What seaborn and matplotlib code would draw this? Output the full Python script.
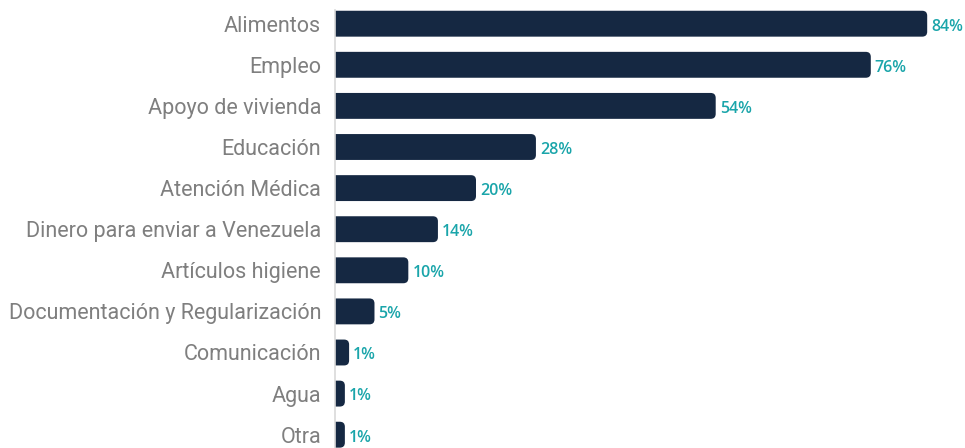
import matplotlib
matplotlib.use("Agg")
import matplotlib.pyplot as plt
import seaborn as sns
import pandas as pd
from matplotlib.patches import FancyBboxPatch

categories = ["Alimentos", "Empleo", "Apoyo de vivienda", "Educación", "Atención Médica",
              "Dinero para enviar a Venezuela", "Artículos higiene",
              "Documentación y Regularización", "Comunicación", "Agua", "Otra"]
values = [84, 76, 54, 28.5, 20, 14.6, 10.4, 5.6, 2.0, 1.4, 1.4]
value_labels = ["84%", "76%", "54%", "28%", "20%", "14%", "10%", "5%", "1%", "1%", "1%"]

df = pd.DataFrame({"cat": categories, "val": values})

sns.set_theme(style="white")

BAR = "#152842"
TEAL = "#1aa5aa"

fig = plt.figure(figsize=(9.65, 4.48), dpi=100)
ax = fig.add_axes([335 / 965, 0, 630 / 965, 1])
sns.barplot(data=df, y="cat", x="val", orient="h", color=BAR, width=0.63,
            saturation=1, ax=ax)

px_per_unit = 7.05
spacing_px = 41.1
top_px = 23.7
ylo = -top_px / spacing_px
yhi = (448 - top_px) / spacing_px
ax.set_xlim(0, 630 / px_per_unit)
ax.set_ylim(yhi, ylo)

x_per_px = 1 / px_per_unit
y_per_px = 1 / spacing_px
r_px = 5
for p in list(ax.patches):
    x, y = p.get_x(), p.get_y()
    w, h = p.get_width(), p.get_height()
    p.remove()
    extra = 10 * x_per_px
    fb = FancyBboxPatch((x - extra, y), w + extra, h,
                        boxstyle=f"round,pad=0,rounding_size={r_px * x_per_px}",
                        mutation_aspect=y_per_px / x_per_px,
                        facecolor=BAR, edgecolor="none", clip_on=True)
    ax.add_patch(fb)

for i, (v, lab) in enumerate(zip(values, value_labels)):
    ax.text(v + 4 * x_per_px, i + 0.07, lab, ha="left", va="center",
            color=TEAL, fontsize=11.5, fontweight="semibold",
            family="Open Sans", clip_on=False)

ax.set_xlabel("")
ax.set_ylabel("")
ax.set_xticks([])
ax.tick_params(axis="y", length=0, pad=10)
ax.set_yticks(range(len(categories)))
ax.set_yticklabels(categories, fontsize=15.5, color="#7f7f7f",
                   family="Roboto", fontweight="normal")
for s in ["top", "right", "bottom"]:
    ax.spines[s].set_visible(False)
ax.spines["left"].set_color("#d9d9d9")
ax.spines["left"].set_linewidth(1.2)
ax.spines["left"].set_bounds(yhi, ylo + 10 / spacing_px)
ax.patch.set_alpha(0)

fig.savefig("out.png", dpi=100)
